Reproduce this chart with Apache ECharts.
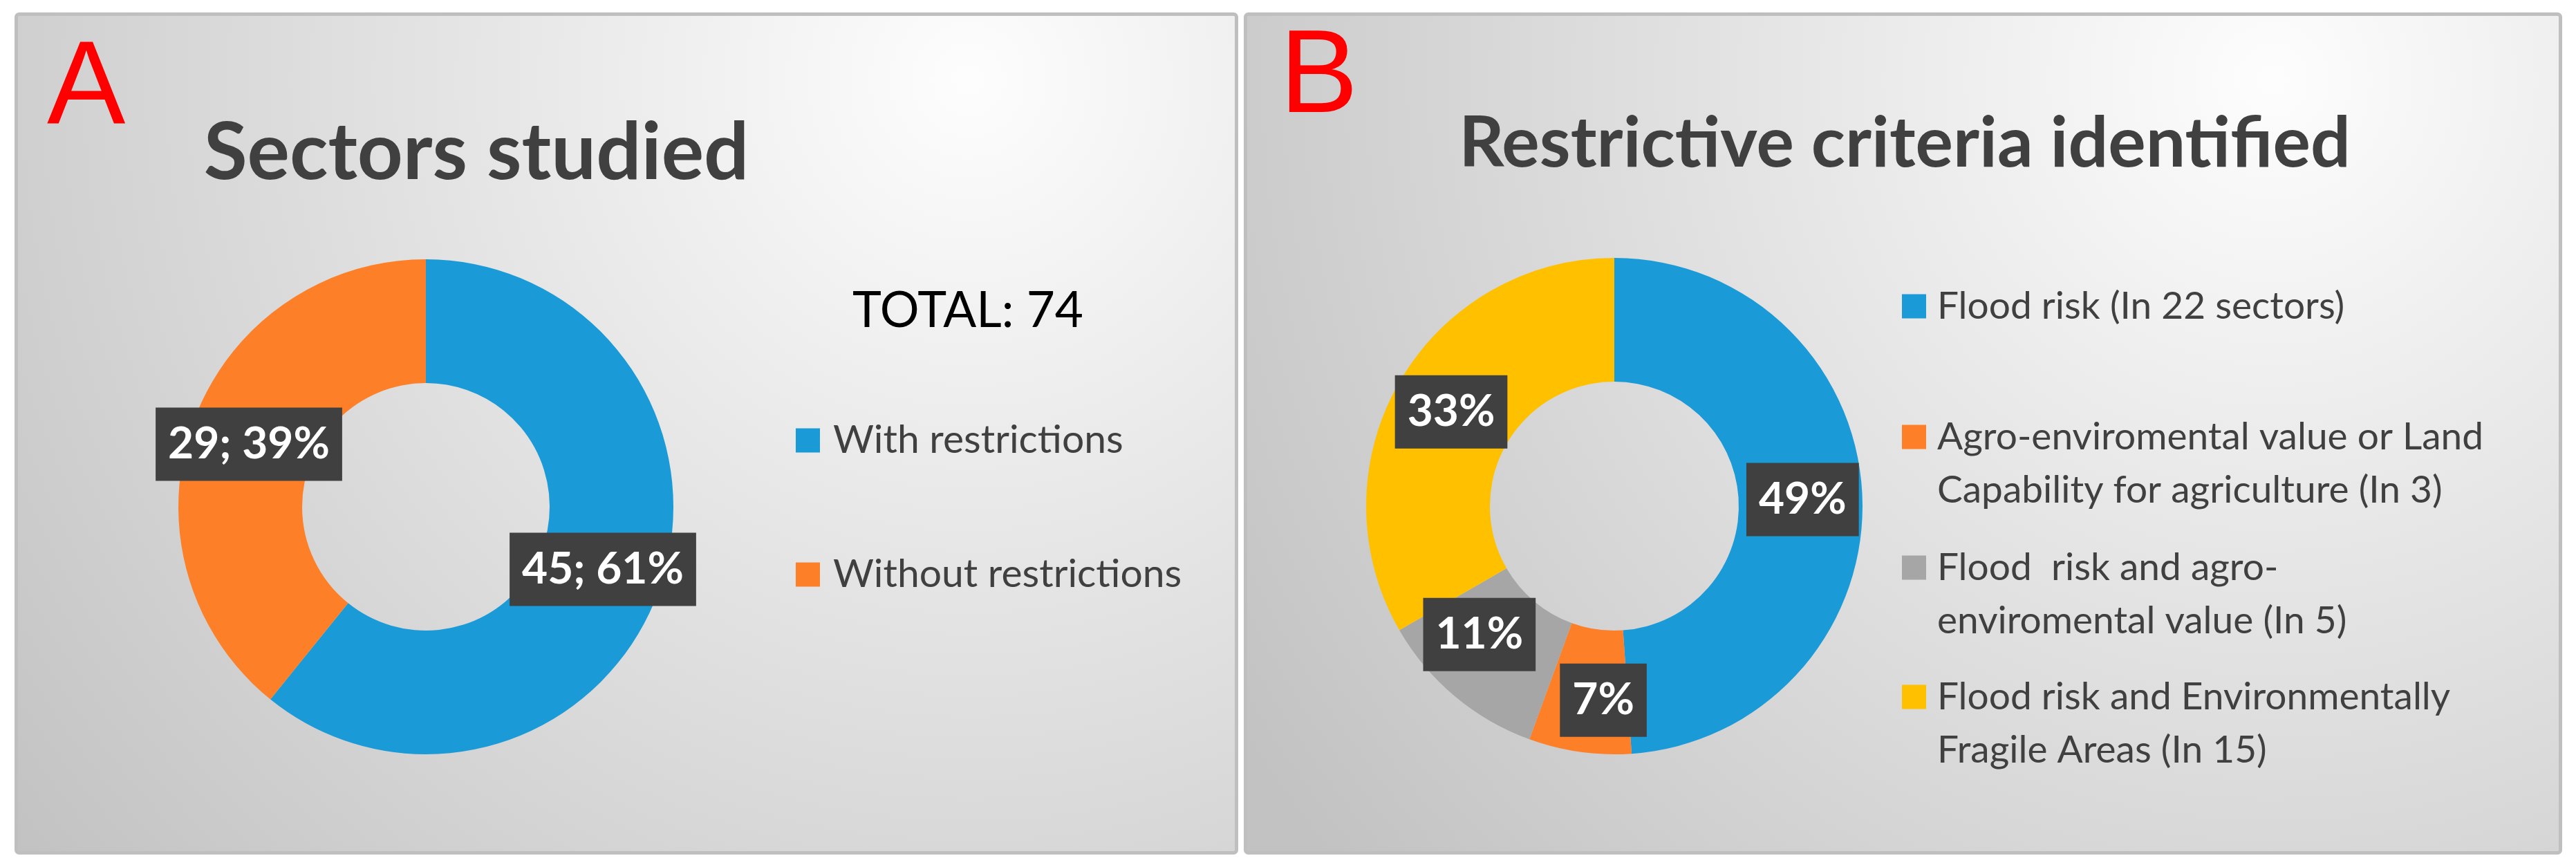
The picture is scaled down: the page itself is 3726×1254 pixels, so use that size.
<!DOCTYPE html>
<html>
<head>
<meta charset="utf-8">
<style>
html,body{margin:0;padding:0;background:#fff}
#main{width:3726px;height:1254px}
</style>
<script src="https://cdn.jsdelivr.net/npm/echarts@6/dist/echarts.min.js"></script>
</head>
<body>
<div id="main"></div>
<script>
// panel A
const sectorNames = ['With restrictions', 'Without restrictions'];
const sectorCounts = [45, 29];
const sectorTotal = 74;
// panel B
const criteriaNames = [
  'Flood risk (In 22 sectors)',
  'Agro-enviromental value or Land\nCapability for agriculture (In 3)',
  'Flood  risk and agro-\nenviromental value (In 5)',
  'Flood risk and Environmentally\nFragile Areas (In 15)'
];
const criteriaCounts = [22, 3, 5, 15];

const colorsA = ['#1a9bd7', '#fd7f28'];
const colorsB = ['#1a9bd7', '#fd7f28', '#a6a6a6', '#ffc000'];
// labels moved by hand in the original
const labelNudgeB = [[0, 0], [22, 11], [-20, -23], [0, 0]];

const labelStyle = {
  show: true,
  position: 'inside',
  color: '#fff',
  fontFamily: 'Lato',
  fontWeight: 'bold',
  fontSize: 64,
  lineHeight: 70,
  backgroundColor: '#404040',
  padding: [18, 18],
  textBorderWidth: 0
};

function bg(x, w) {
  return {
    type: 'rect', z: -10,
    shape: { x: x, y: 20.5, width: w, height: 1213, r: 4 },
    style: {
      fill: {
        type: 'radial', x: 0.78, y: 0.08, r: 1.45,
        colorStops: [{ offset: 0, color: '#fdfdfd' }, { offset: 1, color: '#c2c2c2' }]
      },
      stroke: '#bfbfbf', lineWidth: 5
    }
  };
}

const LH = 77;
const legendLineY = [443, 632, 821, 1008];
const legendsB = criteriaNames.map(function (n, i) {
  const lines = n.split('\n').length;
  return {
    orient: 'vertical', left: 2751, top: legendLineY[i] - (2 * lines - 1) * LH / 2,
    padding: 0, icon: 'rect', itemWidth: 35, itemHeight: 35, selectedMode: false,
    data: [n],
    // blank lines on top keep the square level with the first line
    formatter: function (name) { return '\n'.repeat(lines - 1) + name; },
    textStyle: {
      fontFamily: 'Lato', fontSize: 55, lineHeight: LH, color: '#404040',
      padding: [0, 0, 0, 11]
    }
  };
});

let chart = echarts.init(document.getElementById('main'));
let option = {
  backgroundColor: '#fff',
  animation: false,
  graphic: [
    bg(23.5, 1765),
    bg(1801.5, 1902),
    { type: 'text', x: 68, y: 131, style: { text: 'A', fontFamily: 'Liberation Sans', fontSize: 170, fill: '#ff0000', align: 'left', verticalAlign: 'middle' } },
    { type: 'text', x: 1851, y: 115, style: { text: 'B', fontFamily: 'Liberation Sans', fontSize: 170, fill: '#ff0000', align: 'left', verticalAlign: 'middle' } },
    { type: 'text', x: 689, y: 222, style: { text: 'Sectors studied', fontFamily: 'Lato', fontWeight: 'bold', fontSize: 115, fill: '#404040', align: 'center', verticalAlign: 'middle' } },
    { type: 'text', x: 2755, y: 208, style: { text: 'Restrictive criteria identified', fontFamily: 'Lato', fontWeight: 'bold', fontSize: 102, fill: '#404040', align: 'center', verticalAlign: 'middle' } },
    { type: 'text', x: 1400, y: 450, style: { text: 'TOTAL: ' + sectorTotal, fontFamily: 'Lato', fontSize: 71, fill: '#000', align: 'center', verticalAlign: 'middle' } }
  ],
  legend: [{
    orient: 'vertical', left: 1151, top: 602, padding: 0, icon: 'rect',
    itemWidth: 35, itemHeight: 35, itemGap: 124, selectedMode: false,
    data: sectorNames,
    textStyle: { fontFamily: 'Lato', fontSize: 57, lineHeight: 70, color: '#404040', padding: [0, 0, 0, 14] }
  }].concat(legendsB),
  series: [{
    type: 'pie',
    center: [616, 733],
    radius: [179, 358],
    startAngle: 90,
    avoidLabelOverlap: false,
    percentPrecision: 0,
    emphasis: { disabled: true },
    label: Object.assign({ formatter: '{c}; {d}%' }, labelStyle),
    labelLine: { show: false },
    data: sectorNames.map(function (n, i) {
      return { name: n, value: sectorCounts[i], itemStyle: { color: colorsA[i] } };
    })
  }, {
    type: 'pie',
    center: [2335, 732],
    radius: [180, 359],
    startAngle: 90,
    avoidLabelOverlap: false,
    percentPrecision: 0,
    emphasis: { disabled: true },
    label: Object.assign({ formatter: '{d}%' }, labelStyle),
    labelLine: { show: false },
    data: criteriaNames.map(function (n, i) {
      return {
        name: n, value: criteriaCounts[i], itemStyle: { color: colorsB[i] },
        label: { offset: labelNudgeB[i] }
      };
    })
  }]
};
chart.setOption(option);
window.addEventListener('resize', function () {
  chart.resize();
});
</script>
</body>
</html>
